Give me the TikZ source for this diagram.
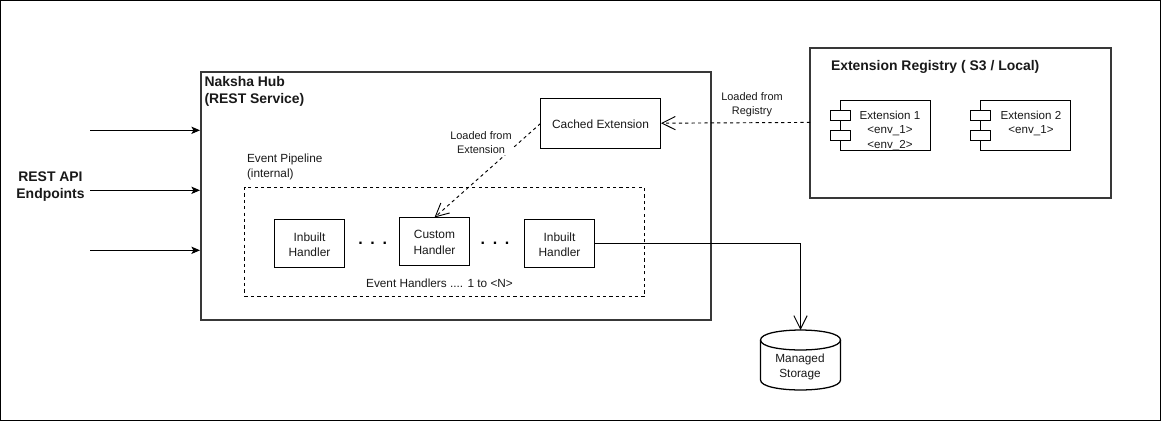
\documentclass[tikz,border=0pt]{standalone}
\usepackage{fontspec}
\setmainfont{Liberation Sans}
\usetikzlibrary{arrows.meta}
\begin{document}
\begin{tikzpicture}[x=0.75pt,y=-0.75pt,
  every node/.style={outer sep=0pt},
  lbl/.style={inner sep=0pt,align=center,font=\fontsize{8.85pt}{11.2pt}\selectfont,text=black!90},
  small lbl/.style={inner sep=0pt,align=center,font=\fontsize{8.2pt}{10.6pt}\selectfont,text=black!90},
  boxlbl/.style={inner sep=0pt,align=center,font=\fontsize{8.95pt}{11.6pt}\selectfont,text=black!90},
  ttl/.style={inner sep=0pt,align=left,font=\bfseries\fontsize{10.45pt}{12.75pt}\selectfont,text=black!90},
  dots/.style={inner sep=0pt,anchor=base,font=\bfseries\fontsize{12pt}{12pt}\selectfont},
  thick box/.style={draw=black!78,line width=1.5pt},
  plain box/.style={draw=black,line width=0.75pt},
  part box/.style={draw=black,fill=white,line width=0.7pt,minimum width=15pt,minimum height=7.5pt,inner sep=0pt,anchor=north west},
  comp box/.style={draw=black,line width=0.7pt,minimum width=67.5pt,minimum height=37.5pt,inner sep=0pt,anchor=north west},
  hand box/.style={plain box,minimum width=52.5pt,minimum height=36pt,inner sep=0pt,anchor=north west},
  open tip/.style={-{Straight Barb[length=10pt,width=10pt,line width=0.7pt]}},
  solid conn/.style={draw=black,line width=0.75pt},
  dash conn/.style={draw=black,line width=0.7pt,dash pattern=on 2.4pt off 2.4pt},
  dash box/.style={draw=black,line width=0.7pt,dash pattern=on 2.4pt off 2.4pt}]
\useasboundingbox (0,0) rectangle (1162,421);
\fill[white] (0,0) rectangle (1162,421);
\draw[draw=black,line width=0.9pt] (0.6,0.5) rectangle (1160.6,420.2);
% hub
\node[thick box,minimum width=382.5pt,minimum height=186pt,inner sep=0pt,anchor=north west] (hub) at (201,72) {};
\node[ttl,anchor=north west] (hubt) at (204.5,76) {Naksha Hub\\(REST Service)};
% registry
\node[thick box,minimum width=225.75pt,minimum height=112.5pt,inner sep=0pt,anchor=north west] (reg) at (810.3,47.5) {};
\node[ttl,anchor=west] (regt) at (831,67.3) {Extension Registry ( S3 / Local)};
% cached
\node[plain box,minimum width=90pt,minimum height=37.5pt,inner sep=0pt,anchor=north west,label={[boxlbl,yshift=-0.75pt]center:Cached Extension}] (cache) at (540.5,98.5) {};
% pipeline
\node[dash box,minimum width=300pt,minimum height=82pt,inner sep=0pt,anchor=north west] (pipe) at (244.5,187.5) {};
\node[lbl,anchor=north west,align=left,font=\fontsize{8.85pt}{11.3pt}\selectfont] (pipet) at (247,154) {Event Pipeline\\(internal)};
\node[hand box,label={[boxlbl,yshift=-0.75pt]center:Inbuilt\\Handler}] (h1) at (274.5,219.5) {};
\node[hand box,label={[boxlbl,yshift=-0.75pt]center:Custom\\Handler}] (h2) at (399.5,217.5) {};
\node[hand box,label={[boxlbl,yshift=-0.75pt]center:Inbuilt\\Handler}] (h3) at (524.5,219.5) {};
\node[dots] (d1) at (372.7,244) {.\hspace{5.7pt}.\hspace{5.7pt}.};
\node[dots] (d2) at (495,244) {.\hspace{5.7pt}.\hspace{5.7pt}.};
\node[lbl] (pipel) at (439.5,283) {Event Handlers .... 1 to <N>};
% components
\node[comp box] (e1) at (840.6,100.4) {};
\node[comp box] (e2) at (980.6,100.4) {};
\node[part box] (e1a) at (830.6,110.4) {};
\node[part box] (e1b) at (830.6,130.4) {};
\node[part box] (e2a) at (970.6,110.4) {};
\node[part box] (e2b) at (970.6,130.4) {};
\node[lbl,anchor=north,font=\fontsize{8.7pt}{10.9pt}\selectfont] (e1t) at (890,110.8) {Extension 1\\<env\_1>\\<env\_2>};
\node[lbl,anchor=north,font=\fontsize{8.7pt}{10.9pt}\selectfont] (e2t) at (1031,110.8) {Extension 2\\<env\_1>};
% storage
\draw[draw=black,line width=0.95pt,fill=white] (760.5,340) .. controls (760.5,326.7) and (840.5,326.7) .. (840.5,340) -- (840.5,380) .. controls (840.5,393.3) and (760.5,393.3) .. (760.5,380) -- cycle;
\draw[draw=black,line width=0.95pt] (760.5,340) .. controls (760.5,353.3) and (840.5,353.3) .. (840.5,340);
\node[lbl] (db) at (800,367.3) {Managed\\Storage};
\coordinate (dbTop) at (800.5,330);
\coordinate (elbow) at (800.5,243.5);
% left arrows
\coordinate (a1) at (90,130.3);
\coordinate (a2) at (90,190.3);
\coordinate (a3) at (90,250.3);
\coordinate (ta1) at (200,130.3);
\coordinate (ta2) at (200,190.3);
\coordinate (ta3) at (200,250.3);
\foreach \a in {a1,a2,a3}{
  \draw[solid conn,-{Stealth[length=6.5pt,width=5.5pt,inset=1.6pt]}] (\a) -- (t\a);
}
\node[ttl,align=center] (rest) at (50.5,186.5) {REST API\\Endpoints};
% connectors
\coordinate (regout) at (810,122.4);
\coordinate (cachein) at (661,123.2);
\draw[dash conn,open tip] (regout) -- (cachein);
\node[small lbl] (l1) at (752,105) {Loaded from\\Registry};
\draw[dash conn,open tip] (cache.west) -- (h2.north);
\node[small lbl,fill=white,inner sep=1pt] (l2) at (481,142.8) {Loaded from\\Extension};
\draw[solid conn,open tip] (h3.east) -- (elbow) -- (dbTop);
\end{tikzpicture}
\end{document}
